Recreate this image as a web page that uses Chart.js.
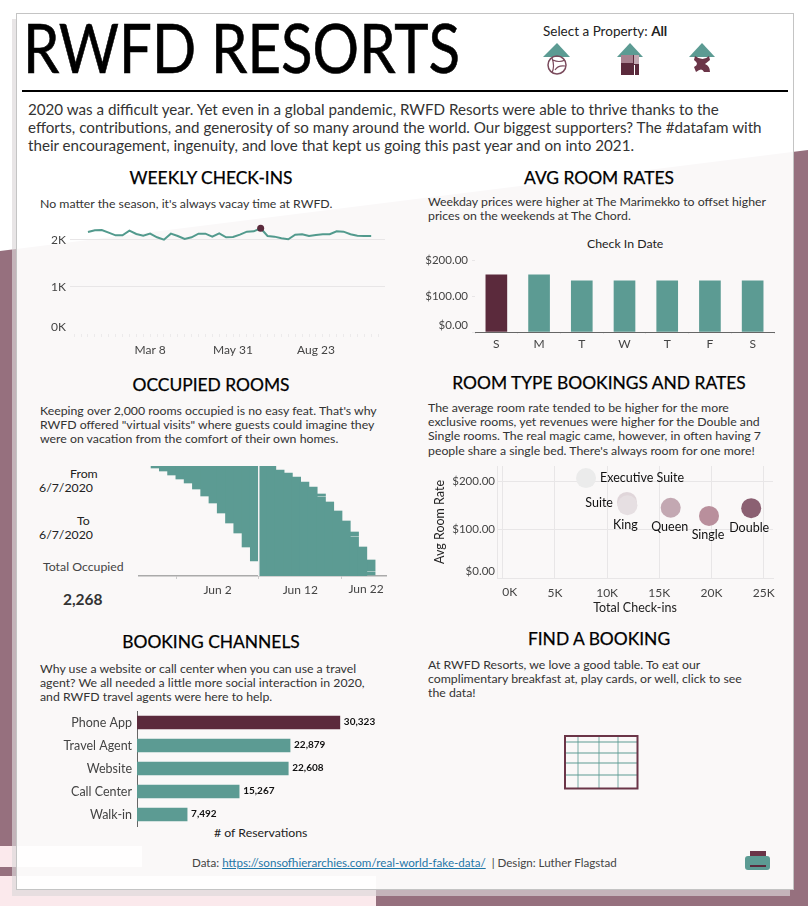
<!DOCTYPE html>
<html>
<head>
<meta charset="utf-8">
<title>RWFD Resorts</title>
<script src="https://cdn.jsdelivr.net/npm/chart.js@4"></script>
<style>
html, body { margin: 0; padding: 0; }
body { width: 808px; height: 906px; position: relative; overflow: hidden; background: #96707e; font-family: Lato, sans-serif; color: #333; }
.bg { position: absolute; left: 0; top: 0; width: 808px; height: 906px; }
.panel { position: absolute; left: 16px; top: 13px; width: 776px; height: 875px; border: 1px solid #c4c4c4; background: rgba(255,255,255,.95); box-shadow: -4px 6px 0 rgba(220,215,217,.66); }
canvas { position: absolute; }
.t { position: absolute; white-space: nowrap; line-height: 14.2px; font-size: 12.3px; }
.h { position: absolute; white-space: nowrap; font-size: 17.4px; line-height: 22px; color: #000; text-align: center; width: 370px; -webkit-text-stroke: .25px #000; }
svg.icons { position: absolute; left: 0; top: 0; }
a { color: #1f77a8; }
</style>
</head>
<body>
<div class="bg" style="background:#fff;clip-path:polygon(0 0,808px 0,808px 150px,0 251px)"></div>
<div class="bg" style="background:#fbe9ec;clip-path:polygon(0 846px,142px 846px,142px 867px,0 867px)"></div>
<div class="bg" style="background:#fbe9ec;clip-path:polygon(0 876px,376px 876px,376px 906px,0 906px)"></div>
<div class="panel"></div>

<div class="t" style="left:23px;top:8px;font-size:67px;line-height:78px;color:#000;transform:scaleX(.868);transform-origin:left top;-webkit-text-stroke:.6px #000">RWFD RESORTS</div>
<div class="bg" style="background:#000;left:22px;top:90px;width:766px;height:2px"></div>
<div class="t" style="left:543px;top:24px;font-size:13.5px;color:#222">Select a Property: <b>All</b></div>
<div class="t" style="left:28px;top:100px;font-size:15.17px;line-height:18px;color:#333">2020 was a difficult year. Yet even in a global pandemic, RWFD Resorts were able to thrive thanks to the<br>efforts, contributions, and generosity of so many around the world. Our biggest supporters? The #datafam with<br>their encouragement, ingenuity, and love that kept us going this past year and on into 2021.</div>

<div class="h" style="left:26px;top:167px">WEEKLY CHECK-INS</div>
<div class="t" style="left:40px;top:197px">No matter the season, it's always vacay time at RWFD.</div>
<div class="h" style="left:414px;top:167px">AVG ROOM RATES</div>
<div class="t" style="left:428px;top:195px">Weekday prices were higher at The Marimekko to offset higher<br>prices on the weekends at The Chord.</div>
<div class="t" style="left:587px;top:237px;color:#222">Check In Date</div>

<div class="h" style="left:26px;top:374px">OCCUPIED ROOMS</div>
<div class="t" style="left:40px;top:404px">Keeping over 2,000 rooms occupied is no easy feat. That's why<br>RWFD offered "virtual visits" where guests could imagine they<br>were on vacation from the comfort of their own homes.</div>
<div class="t" style="left:70px;top:467px;color:#222">From</div>
<div class="t" style="left:39px;top:481px;color:#222">6/7/2020</div>
<div class="t" style="left:77px;top:514px;color:#222">To</div>
<div class="t" style="left:39px;top:528px;color:#222">6/7/2020</div>
<div class="t" style="left:43px;top:560px;color:#444">Total Occupied</div>
<div class="t" style="left:63px;top:592px;font-size:15.5px;font-weight:700;color:#333">2,268</div>

<div class="h" style="left:414px;top:372px">ROOM TYPE BOOKINGS AND RATES</div>
<div class="t" style="left:428px;top:401px">The average room rate tended to be higher for the more<br>exclusive rooms, yet revenues were higher for the Double and<br>Single rooms. The real magic came, however, in often having 7<br>people share a single bed. There's always room for one more!</div>

<div class="h" style="left:26px;top:631px">BOOKING CHANNELS</div>
<div class="t" style="left:40px;top:662px">Why use a website or call center when you can use a travel<br>agent? We all needed a little more social interaction in 2020,<br>and RWFD travel agents were here to help.</div>
<div class="t" style="left:214px;top:826px;color:#222"># of Reservations</div>

<div class="h" style="left:414px;top:628px">FIND A BOOKING</div>
<div class="t" style="left:428px;top:658px">At RWFD Resorts, we love a good table. To eat our<br>complimentary breakfast at, play cards, or well, click to see<br>the data!</div>

<div class="t" style="left:192px;top:856px;color:#444;font-size:11.6px">Data: <a href="https://sonsofhierarchies.com/real-world-fake-data/">https://sonsofhierarchies.com/real-world-fake-data/</a> &nbsp;| Design: Luther Flagstad</div>

<svg class="icons" width="808" height="906" viewBox="0 0 808 906">
  <g fill="#5c9b93">
    <polygon points="543,57 557,43 570,57"/>
    <polygon points="617,57 630,43 643,57"/>
    <polygon points="689,57 702,43 715,57"/>
  </g>
  <circle cx="557" cy="65" r="9" fill="none" stroke="#7a4a5c" stroke-width="1.5"/>
  <path d="M552,58 Q555,66 552,73 M553,60 Q559,63 565,60 M555,70 Q558,65 565,66" fill="none" stroke="#7a4a5c" stroke-width="1.2"/>
  <rect x="621" y="55" width="18" height="20" fill="#5b2a3c"/>
  <rect x="621" y="55" width="12" height="8" fill="#a8818f"/>
  <rect x="634" y="55" width="5" height="9" fill="#c3a8b2"/>
  <rect x="634" y="65" width="1" height="10" fill="#fff"/>
  <path d="M695,56 Q703,62 709,56 L710,60 Q705,64 705,64 Q710,66 710,72 L704,72 Q702,67 696,72 L694,67 Q700,64 694,60 Z" fill="#6b3548"/>
  <g stroke="#5c9b93" fill="none">
    <path d="M565,742H638M565,753H638M565,763H638M565,775H638" stroke-width="1"/>
    <path d="M578,736V789M599,736V789M618,736V789" stroke-width="1.5" opacity=".55"/>
  </g>
  <rect x="565" y="736" width="72.500" height="52.500" fill="none" stroke="#6b3548" stroke-width="2"/>
  <rect x="750" y="851" width="16" height="5" fill="#6b3548"/>
  <rect x="745" y="856" width="25" height="14" rx="3" fill="#5c9b93"/>
  <rect x="750" y="865" width="16" height="2" fill="#5b2a3c"/>
</svg>

<canvas id="chartWeekly" width="350" height="152" style="left:40px;top:206px"></canvas>
<canvas id="chartRates" width="352" height="114" style="left:425px;top:236px"></canvas>
<canvas id="chartOccupied" width="254" height="140" style="left:135px;top:460px"></canvas>
<canvas id="chartRooms" width="355" height="163" style="left:432px;top:452px"></canvas>
<canvas id="chartChannels" width="348" height="143" style="left:40px;top:697px"></canvas>

<script>
// -------------------------------
// data
// -------------------------------
const weekLabels = ['Jan 5','Jan 12','Jan 19','Jan 26','Feb 2','Feb 9','Feb 16','Feb 23','Mar 1','Mar 8','Mar 15','Mar 22','Mar 29','Apr 5','Apr 12','Apr 19','Apr 26','May 3','May 10','May 17','May 24','May 31','Jun 7','Jun 14','Jun 21','Jun 28','Jul 5','Jul 12','Jul 19','Jul 26','Aug 2','Aug 9','Aug 16','Aug 23','Aug 30','Sep 6','Sep 13','Sep 20','Sep 27','Oct 4','Oct 11','Oct 18'];
const weeklyCheckIns = [2170,2206,2213,2156,2099,2099,2199,2128,2092,2135,2057,2007,2135,2085,2021,2057,2135,2135,2071,2142,2057,2064,2113,2177,2184,2248,2085,2071,2035,2014,2113,2121,2085,2106,2121,2121,2184,2177,2121,2092,2085,2085];
const weekTicksShown = ['Mar 8','May 31','Aug 23'];
const weeklyYTicks = [0,1000,2000];
const peakWeek = 25;

const dayLabels = ['S','M','T','W','T','F','S'];
const dayRates = [159,159,142,142,142,142,142];
const ratesYTicks = [0,100,200];
const topRateDay = 0;

// June day number at the middle of each column, rows are counted up from the axis
const occupiedDays = [-5.5,-4.5,-3.5,-2.5,-1.5,-0.5,0.5,1.5,2.5,3.5,4.5,5.5,6.5,7.5,8.5,9.5,10.5,11.5,12.5,13.5,14.5,15.5,16.5,17.5,18.5,19.5,20.5];
const occupiedFrom = [108,105,101,97,93,87,80,73,63,53,43,29,15,0,0,0,0,0,0,0,0,0,0,0,0,0,1];
const occupiedTo = [110,110,110,110,110,110,110,110,110,110,110,110,110,110,110,106,103,99,94,89,79,74,65,55,39,29,4];
// the few columns with an empty row: the piece above the gap
const occupiedExtraDays = [14.5,18.5,20.5];
const occupiedExtraFrom = [80,40,5];
const occupiedExtraTo = [82,44,16];
const occupiedTickDays = [2,12,22];
const occupiedTickLabels = ['Jun 2','Jun 12','Jun 22'];
const selectedDay = 7;

const roomTypes = ['Executive Suite','Suite','King','Queen','Single','Double'];
const roomCheckIns = [7980,11900,11950,16090,19760,23800];
const roomRates = [206,157,150,145,128,144];
const roomXTicks = [0,5000,10000,15000,20000,25000];
const roomYTicks = [0,100,200];
const roomTints = ['#ebebeb','#e0d6da','#e6dfe2','#c3a8b2','#b98f9c','#8b6072'];
const roomLabelOffsets = [[14,0,'left'],[-14,1,'right'],[-2,20,'center'],[-1,19,'center'],[-1,19,'center'],[-2,20,'center']];

const channels = ['Phone App','Travel Agent','Website','Call Center','Walk-in'];
const reservations = [30323,22879,22608,15267,7492];
const topChannel = 0;

// -------------------------------
// shared look
// -------------------------------
const TEAL = '#5c9b93';
const PLUM = '#5b2a3c';
const LINE_TEAL = '#529a8d';
const GRID = '#e8e6e7';
const TICK_COLOR = '#444';
const FONT = 'Lato, sans-serif';

Chart.defaults.font.family = FONT;
Chart.defaults.font.size = 12;
Chart.defaults.color = TICK_COLOR;
Chart.defaults.animation = false;
Chart.defaults.responsive = false;
Chart.defaults.plugins.legend.display = false;
Chart.defaults.plugins.tooltip.enabled = false;

const fixedSize = px => scale => {
  if (scale.isHorizontal()) scale.height = px; else scale.width = px;
};
const useTicks = values => scale => {
  scale.ticks = values.map(value => ({ value }));
};

// tick labels that Tableau nudged to stay inside the pane
const movedTicks = {
  id: 'movedTicks',
  afterDraw(chart, args, opts) {
    const ctx = chart.ctx;
    (opts.items || []).forEach(it => {
      const s = chart.scales[it.axis];
      ctx.save();
      ctx.font = `${it.size || 12}px ${FONT}`;
      ctx.fillStyle = TICK_COLOR;
      if (it.axis === 'y') {
        ctx.textAlign = 'right';
        ctx.textBaseline = 'middle';
        ctx.fillText(it.text, s.right - it.pad, s.getPixelForValue(it.value) + it.shift);
      } else {
        ctx.textAlign = 'center';
        ctx.textBaseline = 'top';
        ctx.fillText(it.text, s.getPixelForValue(it.value) + it.shift, s.top + it.pad);
      }
      ctx.restore();
    });
  }
};

// Jun 7 marker on the occupied chart
const dayMarker = {
  id: 'dayMarker',
  afterDatasetsDraw(chart, args, opts) {
    if (opts.day === undefined) return;
    const x = chart.scales.x.getPixelForValue(opts.day);
    const ctx = chart.ctx;
    ctx.save();
    ctx.fillStyle = '#f4f1f3';
    ctx.fillRect(Math.round(x) - 1, chart.chartArea.top, 1.5, chart.chartArea.height);
    ctx.restore();
  }
};

// text next to bars and bubbles
const markLabels = {
  id: 'markLabels',
  afterDatasetsDraw(chart, args, opts) {
    if (!opts.text) return;
    const ctx = chart.ctx;
    chart.getDatasetMeta(0).data.forEach((el, i) => {
      const o = opts.offset(i);
      ctx.save();
      ctx.font = opts.font;
      ctx.fillStyle = '#111';
      ctx.textAlign = o[2];
      ctx.textBaseline = 'middle';
      ctx.fillText(opts.text(i), el.x + o[0], el.y + o[1]);
      ctx.restore();
    });
  }
};

Chart.register(movedTicks, dayMarker, markLabels);

// -------------------------------
// weekly check-ins
// -------------------------------
new Chart(document.getElementById('chartWeekly'), {
  type: 'line',
  data: {
    datasets: [{
      data: weeklyCheckIns.map((v, i) => ({ x: i, y: v })),
      borderColor: LINE_TEAL,
      borderWidth: 2,
      tension: 0,
      pointRadius: ctx => ctx.dataIndex === peakWeek ? 3.5 : 0,
      pointBackgroundColor: PLUM,
      pointBorderWidth: 0
    }]
  },
  options: {
    layout: { padding: { top: 14, right: 5 } },
    scales: {
      x: {
        type: 'linear', min: -2.6, max: 43,
        afterFit: fixedSize(24),
        afterBuildTicks: useTicks(Array.from({ length: 45 }, (_, i) => i - 2)),
        border: { display: false },
        grid: { drawOnChartArea: false, tickLength: 3, color: '#eceaeb' },
        ticks: {
          autoSkip: false, maxRotation: 0, padding: 6,
          callback: v => weekTicksShown.includes(weekLabels[v]) ? weekLabels[v] : ''
        }
      },
      y: {
        min: 0, max: 2425,
        afterFit: fixedSize(30),
        afterBuildTicks: useTicks(weeklyYTicks),
        border: { display: false },
        grid: { drawTicks: false, color: ctx => ctx.tick.value === 0 ? 'rgba(0,0,0,0)' : GRID },
        ticks: { padding: 4, callback: v => v === 0 ? '' : (v / 1000) + 'K' }
      }
    },
    plugins: { movedTicks: { items: [{ axis: 'y', value: 0, text: '0K', pad: 4, shift: -7 }] } }
  }
});

// -------------------------------
// average room rates by weekday
// -------------------------------
new Chart(document.getElementById('chartRates'), {
  type: 'bar',
  data: {
    labels: dayLabels,
    datasets: [{
      data: dayRates,
      barThickness: 21,
      backgroundColor: ctx => ctx.dataIndex === topRateDay ? PLUM : TEAL
    }]
  },
  options: {
    layout: { padding: { top: 14, right: 3 } },
    scales: {
      x: {
        afterFit: fixedSize(18),
        border: { color: '#666', width: 1 },
        grid: { drawOnChartArea: false, tickLength: 2, color: GRID },
        ticks: { padding: 3, autoSkip: false, maxRotation: 0 }
      },
      y: {
        min: 0, max: 227.8,
        afterFit: fixedSize(50),
        afterBuildTicks: useTicks(ratesYTicks),
        border: { display: false },
        grid: { drawOnChartArea: false, tickLength: 3, color: GRID },
        ticks: { padding: 4, font: { size: 11.5 }, callback: v => v === 0 ? '' : '$' + v.toFixed(2) }
      }
    },
    plugins: { movedTicks: { items: [{ axis: 'y', value: 0, text: '$0.00', pad: 7, shift: -7, size: 11.5 }] } }
  }
});

// -------------------------------
// occupied rooms
// -------------------------------
new Chart(document.getElementById('chartOccupied'), {
  type: 'bar',
  data: {
    datasets: [
      {
        data: occupiedDays.map((d, i) => ({ x: d, y: [occupiedFrom[i], occupiedTo[i]] })),
        backgroundColor: TEAL, barThickness: 9, grouped: false
      },
      {
        data: occupiedExtraDays.map((d, i) => ({ x: d, y: [occupiedExtraFrom[i], occupiedExtraTo[i]] })),
        backgroundColor: TEAL, barThickness: 9, grouped: false
      }
    ]
  },
  options: {
    layout: { padding: { top: 6, left: 4, right: 3 } },
    scales: {
      x: {
        type: 'linear', min: -7.5, max: 22.36, offset: false,
        afterFit: fixedSize(24),
        afterBuildTicks: useTicks(occupiedTickDays),
        border: { color: '#aaa', width: 1.5 },
        grid: { drawOnChartArea: false, tickLength: 3, color: '#ccc' },
        ticks: {
          autoSkip: false, maxRotation: 0, padding: 4,
          callback: v => v === 22 ? '' : occupiedTickLabels[occupiedTickDays.indexOf(v)]
        }
      },
      y: { display: false, min: 0, max: 110 }
    },
    plugins: {
      dayMarker: { day: selectedDay },
      movedTicks: { items: [{ axis: 'x', value: 22, text: 'Jun 22', pad: 7, shift: -17 }] }
    }
  }
});

// -------------------------------
// room type bookings and rates
// -------------------------------
new Chart(document.getElementById('chartRooms'), {
  type: 'scatter',
  data: {
    datasets: [{
      data: roomCheckIns.map((v, i) => ({ x: v, y: roomRates[i] })),
      pointRadius: 10,
      pointBorderWidth: 0,
      pointBackgroundColor: roomTints
    }]
  },
  options: {
    layout: { padding: { top: 14, right: 14 } },
    scales: {
      x: {
        min: -546, max: 25890,
        afterFit: fixedSize(37),
        afterBuildTicks: useTicks(roomXTicks),
        border: { color: GRID },
        grid: { color: GRID, drawTicks: false },
        title: { display: true, text: 'Total Check-ins', color: '#222', padding: 0, font: { size: 12.5 } },
        ticks: { padding: 8, autoSkip: false, maxRotation: 0, callback: v => v === 0 ? '' : (v / 1000) + 'K' }
      },
      y: {
        min: 0, max: 231,
        afterFit: fixedSize(65),
        afterBuildTicks: useTicks(roomYTicks),
        border: { color: GRID },
        grid: { color: GRID, drawTicks: false },
        title: { display: true, text: 'Avg Room Rate', color: '#222', padding: 0, font: { size: 12.5 } },
        ticks: { padding: 2, font: { size: 11.5 }, callback: v => v === 0 ? '' : '$' + v.toFixed(2) }
      }
    },
    plugins: {
      movedTicks: { items: [
        { axis: 'y', value: 0, text: '$0.00', pad: 2, shift: -7, size: 11.5 },
        { axis: 'x', value: 0, text: '0K', pad: 8, shift: 7 }
      ] },
      markLabels: {
        text: i => roomTypes[i],
        offset: i => roomLabelOffsets[i],
        font: `12.5px ${FONT}`
      }
    }
  }
});

// -------------------------------
// booking channels
// -------------------------------
new Chart(document.getElementById('chartChannels'), {
  type: 'bar',
  data: {
    labels: channels,
    datasets: [{
      data: reservations,
      barThickness: 13,
      backgroundColor: ctx => ctx.dataIndex === topChannel ? PLUM : TEAL
    }]
  },
  options: {
    indexAxis: 'y',
    layout: { padding: { top: 14, right: 3, bottom: 14 } },
    scales: {
      x: { display: false, min: 0, max: 37070 },
      y: {
        afterFit: fixedSize(97),
        border: { color: '#666', width: 1 },
        grid: { display: true, drawOnChartArea: false, drawTicks: false },
        ticks: { padding: 5, autoSkip: false, font: { size: 12.5 } }
      }
    },
    plugins: {
      markLabels: {
        text: i => reservations[i].toLocaleString('en-US'),
        offset: () => [4, -1, 'left'],
        font: `bold 10px ${FONT}`
      }
    }
  }
});
</script>
</body>
</html>
